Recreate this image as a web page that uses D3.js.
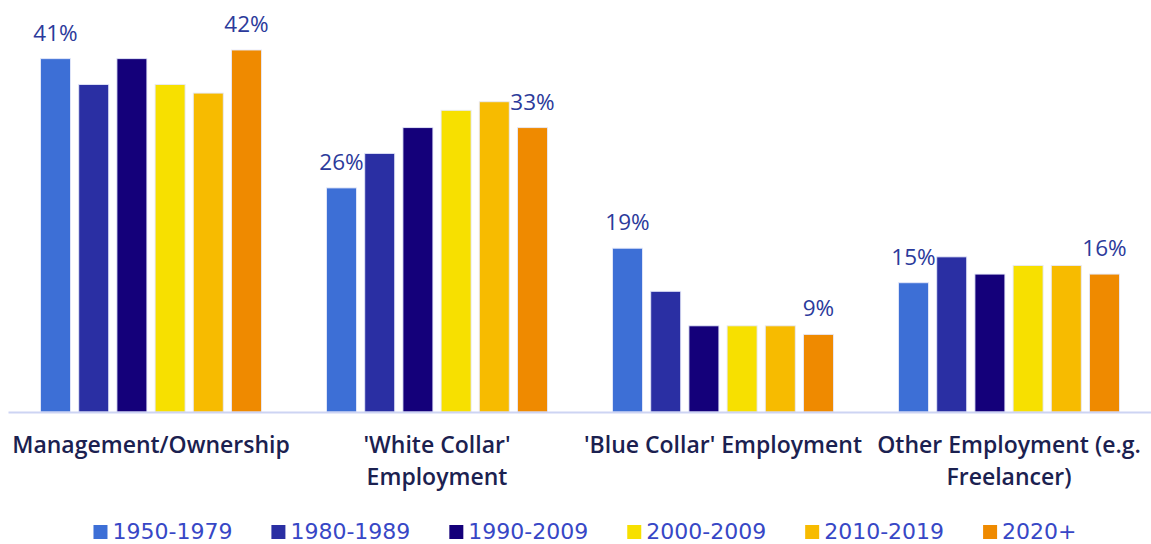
<!DOCTYPE html>
<html>
<head>
<meta charset="utf-8">
<script src="https://cdn.jsdelivr.net/npm/d3@7"></script>
<style>
  html, body { margin: 0; padding: 0; background: #ffffff; }
  svg { display: block; }
</style>
</head>
<body>
<svg id="chart" width="1151" height="544"></svg>
<script>
// Employment categories (line breaks mark where the axis label wraps)
const categories = [
  "Management/Ownership",
  "'White Collar'\nEmployment",
  "'Blue Collar' Employment",
  "Other Employment (e.g.\nFreelancer)"
];

// Period series
const periods = ["1950-1979", "1980-1989", "1990-2009", "2000-2009", "2010-2019", "2020+"];

// Share (%) per category, one array per period
const v1950_1979 = [41, 26, 19, 15];
const v1980_1989 = [38, 30, 14, 18];
const v1990_2009 = [41, 33, 10, 16];
const v2000_2009 = [38, 35, 10, 17];
const v2010_2019 = [37, 36, 10, 17];
const v2020plus  = [42, 33, 9, 16];

const seriesValues = [v1950_1979, v1980_1989, v1990_2009, v2000_2009, v2010_2019, v2020plus];

// Only the first and last period carry a value label
const labelledPeriods = ["1950-1979", "2020+"];

const colors = ["#3d6fd6", "#2a2fa3", "#14007a", "#f7e000", "#f7bb00", "#ef8a00"];

const svg = d3.select("#chart");
const font = "'Open Sans', 'DejaVu Sans', sans-serif";
const legendFont = "'DejaVu Sans', sans-serif";

const baseY = 412;
const x0 = d3.scaleBand().domain(categories).range([8, 1152]).paddingInner(0).paddingOuter(0);
const x1 = d3.scaleBand().domain(periods).range([0, x0.bandwidth()])
  .paddingInner(0.215).paddingOuter(0.851);
const y = d3.scaleLinear().domain([0, 42]).range([baseY, 50]);
const color = d3.scaleOrdinal().domain(periods).range(colors);

const rows = [];
categories.forEach((c, ci) => {
  periods.forEach((p, pi) => {
    rows.push({ category: c, period: p, value: seriesValues[pi][ci] });
  });
});

// Bars
svg.append("g").selectAll("rect")
  .data(rows)
  .join("rect")
  .attr("x", d => x0(d.category) + x1(d.period))
  .attr("y", d => y(d.value))
  .attr("width", x1.bandwidth())
  .attr("height", d => y(0) - y(d.value))
  .attr("fill", d => color(d.period))
  .attr("stroke", "rgba(230,233,250,0.9)")
  .attr("stroke-width", 1);

// Value labels
svg.append("g").selectAll("text")
  .data(rows.filter(d => labelledPeriods.includes(d.period)))
  .join("text")
  .attr("x", d => x0(d.category) + x1(d.period) + x1.bandwidth() / 2)
  .attr("y", d => y(d.value) - 18)
  .attr("text-anchor", "middle")
  .attr("font-family", font)
  .attr("font-size", 22.5)
  .attr("font-weight", 500)
  .attr("fill", "#2b3a9b")
  .text(d => d.value + "%");

// Baseline axis
const xAxis = d3.axisBottom(x0).tickSize(0).tickFormat("");
const axisG = svg.append("g").attr("transform", `translate(0,${baseY})`).call(xAxis);
axisG.select(".domain").attr("stroke", "#cdd4f3").attr("stroke-width", 2);

// Category labels (wrapped)
const catG = svg.append("g");
categories.forEach(c => {
  const t = catG.append("text")
    .attr("x", x0(c) + x0.bandwidth() / 2)
    .attr("y", 453)
    .attr("text-anchor", "middle")
    .attr("font-family", font)
    .attr("font-size", 23)
    .attr("font-weight", 600)
    .attr("fill", "#1b2150");
  c.split("\n").forEach((line, i) => {
    t.append("tspan")
      .attr("x", x0(c) + x0.bandwidth() / 2)
      .attr("dy", i === 0 ? 0 : 32)
      .text(line);
  });
});

// Legend
const legend = svg.append("g");
const legendGap = 39;
let cursor = 0;
periods.forEach(p => {
  const g = legend.append("g").attr("transform", `translate(${cursor},0)`);
  g.append("rect").attr("x", 0).attr("y", 525).attr("width", 14).attr("height", 14)
    .attr("fill", color(p));
  const txt = g.append("text")
    .attr("x", 19).attr("y", 538.5)
    .attr("font-family", legendFont)
    .attr("font-size", 22)
    .attr("fill", "#3747c6")
    .text(p);
  cursor += 19 + txt.node().getComputedTextLength() + legendGap;
});
const legendWidth = cursor - legendGap;
legend.attr("transform", `translate(${585 - legendWidth / 2},0)`);
</script>
</body>
</html>
